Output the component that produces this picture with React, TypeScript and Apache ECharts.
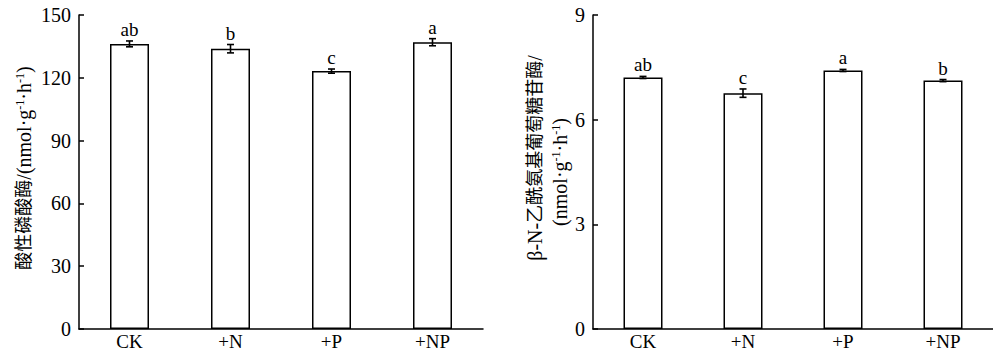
import React, { useEffect, useRef } from "react";
import * as echarts from "echarts";

const categories = ["CK", "+N", "+P", "+NP"];
const acpValues = [136.2, 133.9, 123.2, 137.0];
const acpErrors = [1.4, 2.0, 1.0, 1.7];
const acpLetters = ["ab", "b", "c", "a"];
const nagValues = [7.21, 6.76, 7.41, 7.12];
const nagErrors = [0.03, 0.12, 0.03, 0.03];
const nagLetters = ["ab", "c", "a", "b"];
const acpTicks = { min: 0, max: 150, interval: 30 };
const nagTicks = { min: 0, max: 9, interval: 3 };

const SERIF = "'Liberation Serif', 'Times New Roman', 'Noto Sans CJK SC', serif";

function errorSeries(idx: number, values: number[], errors: number[], letters: string[]) {
  return {
    type: "custom",
    xAxisIndex: idx,
    yAxisIndex: idx,
    z: 5,
    data: values.map((v, i) => [i, v, errors[i]]),
    renderItem: (params: any, api: any) => {
      const x = api.value(0);
      const v = api.value(1);
      const e = api.value(2);
      const top = api.coord([x, v + e]);
      const bot = api.coord([x, v - e]);
      const cap = 3.5;
      const st = { stroke: "#000", lineWidth: 1.6 };
      return {
        type: "group",
        children: [
          { type: "line", shape: { x1: top[0], y1: top[1], x2: bot[0], y2: bot[1] }, style: st },
          { type: "line", shape: { x1: top[0] - cap, y1: top[1], x2: top[0] + cap, y2: top[1] }, style: st },
          { type: "line", shape: { x1: bot[0] - cap, y1: bot[1], x2: bot[0] + cap, y2: bot[1] }, style: st },
          {
            type: "text",
            x: top[0],
            y: top[1] - 2,
            style: {
              text: letters[params.dataIndex],
              fill: "#000",
              font: `19px ${SERIF}`,
              align: "center",
              verticalAlign: "bottom",
            },
          },
        ],
      };
    },
  };
}

function yAxis(idx: number, t: { min: number; max: number; interval: number }) {
  return {
    type: "value",
    gridIndex: idx,
    min: t.min,
    max: t.max,
    interval: t.interval,
    axisLine: { show: true, lineStyle: { color: "#000", width: 1.5 } },
    axisTick: { show: true, inside: true, length: 5, lineStyle: { color: "#000", width: 1.5 } },
    splitLine: { show: false },
    axisLabel: { color: "#000", fontSize: 20, fontFamily: SERIF, margin: 8 },
  };
}

function xAxis(idx: number) {
  return {
    type: "category",
    gridIndex: idx,
    data: categories,
    axisLine: { show: true, lineStyle: { color: "#000", width: 1.5 } },
    axisTick: { show: true, inside: true, alignWithLabel: true, length: 4, lineStyle: { color: "#000", width: 1.5 } },
    axisLabel: { color: "#000", fontSize: 19, fontFamily: SERIF, margin: 3 },
  };
}

function barSeries(idx: number, values: number[]) {
  return {
    type: "bar",
    xAxisIndex: idx,
    yAxisIndex: idx,
    data: values,
    barWidth: 39,
    itemStyle: { color: "#fff", borderColor: "#000", borderWidth: 1.5 },
  };
}

const richSup = {
  a: { fontSize: 20, fontFamily: SERIF, fill: "#000", color: "#000" },
  c: { fontSize: 18, fontFamily: SERIF, fill: "#000", color: "#000" },
  s: { fontSize: 12, fontFamily: SERIF, fill: "#000", color: "#000", verticalAlign: "top" },
};

export default function App() {
  const ref = useRef<HTMLDivElement>(null);
  useEffect(() => {
    if (!ref.current) return;
    const chart = echarts.init(ref.current, undefined, { renderer: "svg" });
    chart.setOption({
      animation: false,
      backgroundColor: "#fff",
      grid: [
        { left: 79, top: 15, width: 404, height: 314 },
        { left: 593, top: 15, width: 407, height: 314 },
      ],
      xAxis: [xAxis(0), xAxis(1)],
      yAxis: [yAxis(0, acpTicks), yAxis(1, nagTicks)],
      series: [
        barSeries(0, acpValues),
        barSeries(1, nagValues),
        errorSeries(0, acpValues, acpErrors, acpLetters),
        errorSeries(1, nagValues, nagErrors, nagLetters),
      ],
      graphic: [
        {
          type: "text",
          x: 24,
          y: 168,
          rotation: Math.PI / 2,
          style: {
            text: "{c|酸性磷酸酶}{a|/(nmol·g}{s|-1}{a|·h}{s|-1}{a|)}",
            rich: richSup,
            align: "center",
            verticalAlign: "middle",
            fill: "#000",
          },
        },
        {
          type: "text",
          x: 535,
          y: 158,
          rotation: Math.PI / 2,
          style: {
            text: "{a|β-N-}{c|乙酰氨基葡萄糖苷酶}{a|/}",
            rich: richSup,
            align: "center",
            verticalAlign: "middle",
            fill: "#000",
          },
        },
        {
          type: "text",
          x: 560,
          y: 172,
          rotation: Math.PI / 2,
          style: {
            text: "{a|(nmol·g}{s|-1}{a|·h}{s|-1}{a|)}",
            rich: richSup,
            align: "center",
            verticalAlign: "middle",
            fill: "#000",
          },
        },
      ],
    });
    return () => chart.dispose();
  }, []);
  return (
    <div
      ref={ref}
      style={{ position: "absolute", left: 0, top: 0, width: 993, height: 359, background: "#fff" }}
    />
  );
}
